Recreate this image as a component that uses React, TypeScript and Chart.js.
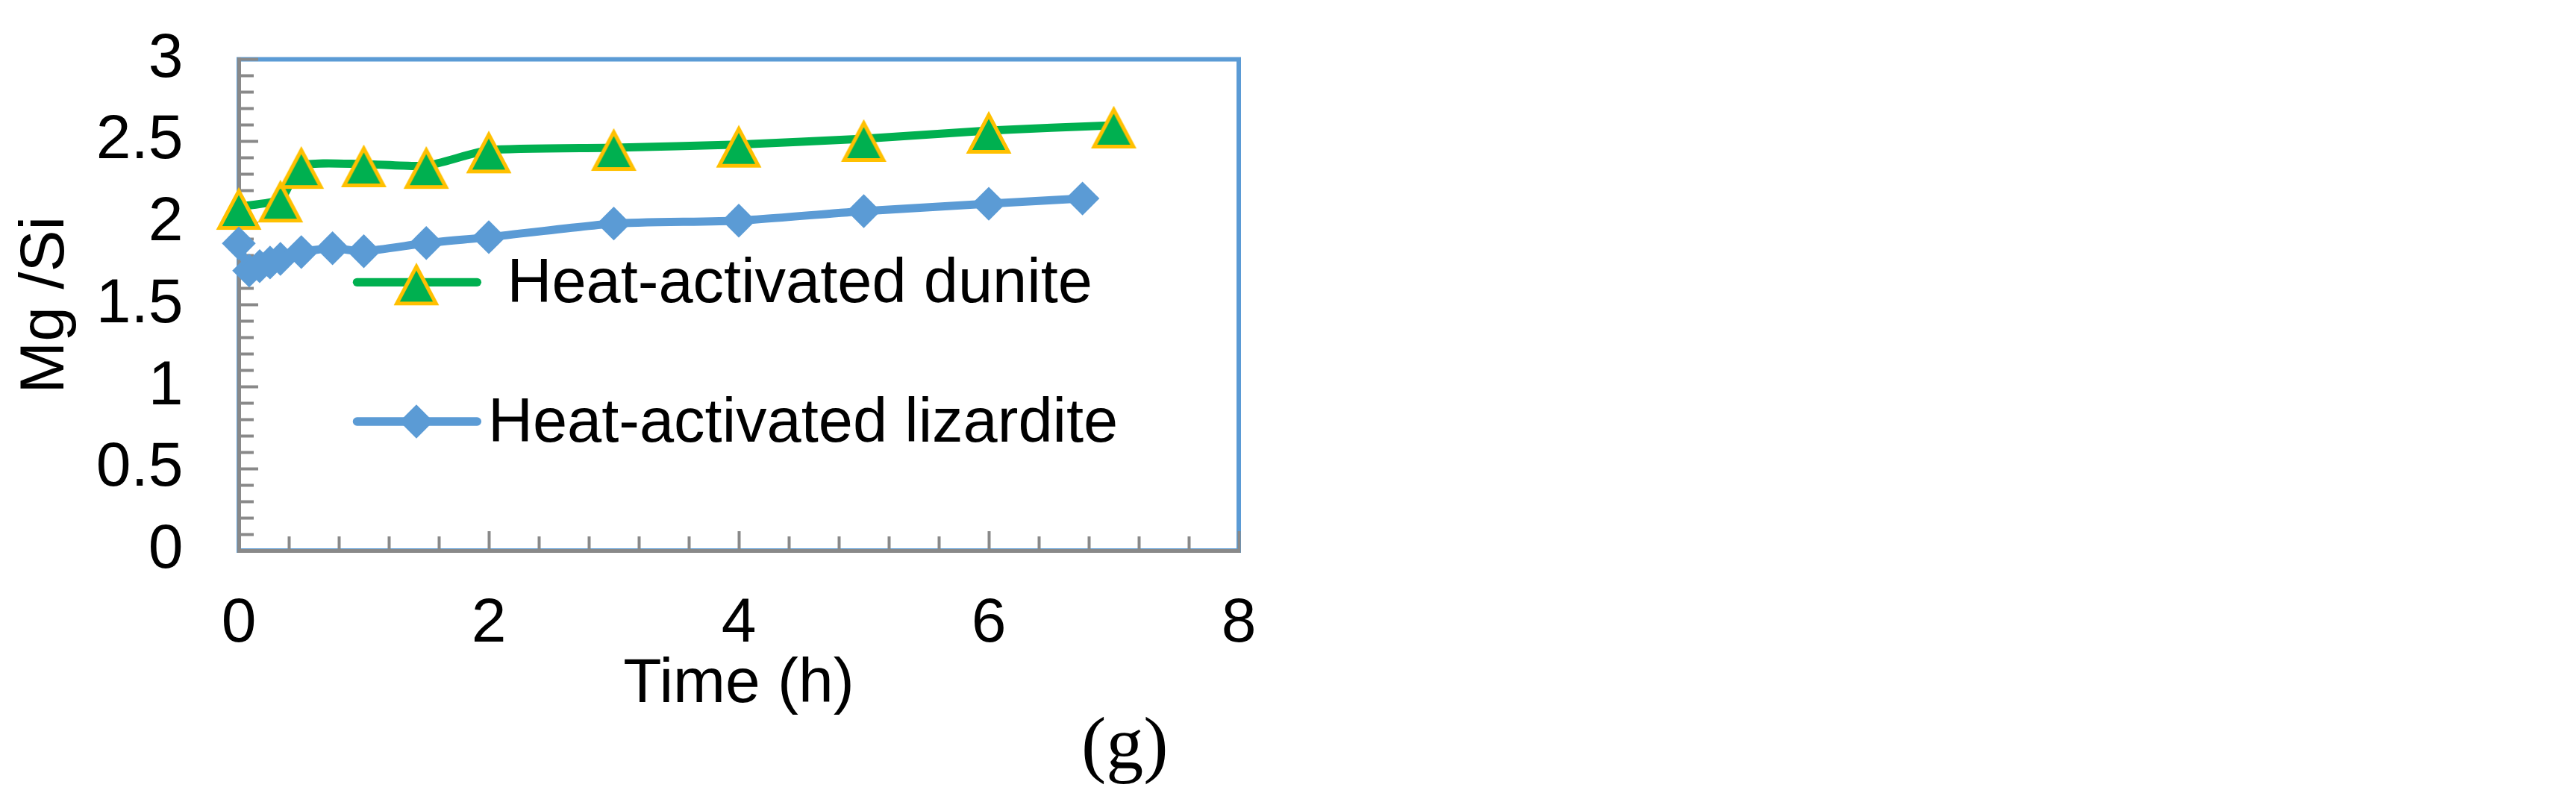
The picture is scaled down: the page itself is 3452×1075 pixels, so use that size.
import React, { useEffect, useRef } from 'react';
import { Chart, registerables } from 'chart.js';

Chart.register(...registerables);

// ---- data ----
const dunTime = [0, 0.333, 0.5, 1, 1.5, 2, 3, 4, 5, 6, 7];
const dunVal = [2.1, 2.145, 2.35, 2.36, 2.35, 2.445, 2.46, 2.48, 2.515, 2.565, 2.597];
const lizTime = [0, 0.083, 0.167, 0.25, 0.333, 0.5, 0.75, 1, 1.5, 2, 3, 4, 5, 6, 6.75];
const lizVal = [1.876, 1.71, 1.737, 1.759, 1.781, 1.823, 1.846, 1.828, 1.878, 1.914, 1.997, 2.015, 2.073, 2.118, 2.15];
const legendLabels = ['Heat-activated dunite', 'Heat-activated lizardite'];
const xTickLabels = [0, 2, 4, 6, 8];
const yTickLabels = [0, 0.5, 1, 1.5, 2, 2.5, 3];
const xTitle = 'Time (h)';
const yTitle = 'Mg /Si';
const panelLabel = '(g)';

// ---- styles ----
const GREEN = '#00B050';
const YELLOW = '#FFC000';
const BLUE = '#5B9BD5';
const GRAY = '#898989';
const SANS = '"Liberation Sans", Arial, sans-serif';
const SERIF = '"Liberation Serif", "Times New Roman", serif';

const near = (v: number, list: number[]) => list.some((m) => Math.abs(m - v) < 1e-6);

function makeTriangle(): HTMLCanvasElement {
  const c = document.createElement('canvas');
  c.width = 64;
  c.height = 64;
  const g = c.getContext('2d')!;
  const cx = 32;
  const cy = 32;
  g.beginPath();
  g.moveTo(cx, cy - 21);
  g.lineTo(cx + 26.3, cy + 28.5);
  g.lineTo(cx - 26.3, cy + 28.5);
  g.closePath();
  g.fillStyle = GREEN;
  g.fill();
  g.lineWidth = 5;
  g.lineJoin = 'miter';
  g.miterLimit = 10;
  g.strokeStyle = YELLOW;
  g.stroke();
  return c;
}

export default function App() {
  const ref = useRef<HTMLCanvasElement | null>(null);

  useEffect(() => {
    if (!ref.current) return;
    const tri = makeTriangle();

    const decor = {
      id: 'decor',
      beforeDraw(chart: any) {
        const { ctx, chartArea: a } = chart;
        ctx.save();
        ctx.fillStyle = '#ffffff';
        ctx.fillRect(0, 0, chart.width, chart.height);
        ctx.strokeStyle = BLUE;
        ctx.lineWidth = 6;
        ctx.strokeRect(a.left, a.top, a.right - a.left, a.bottom - a.top);
        ctx.restore();
      },
      afterDraw(chart: any) {
        const { ctx } = chart;
        ctx.save();
        const rows = [
          { y: 378.3, textX: 679.5, color: GREEN, kind: 'tri', label: legendLabels[0] },
          { y: 565, textX: 654, color: BLUE, kind: 'dia', label: legendLabels[1] },
        ];
        for (const r of rows) {
          ctx.beginPath();
          ctx.strokeStyle = r.color;
          ctx.lineWidth = 11.3;
          ctx.lineCap = 'round';
          ctx.moveTo(478.4, r.y);
          ctx.lineTo(639.4, r.y);
          ctx.stroke();
          if (r.kind === 'tri') {
            ctx.drawImage(tri, 558 - tri.width / 2, r.y - tri.height / 2);
          } else {
            const rr = 22.7;
            ctx.beginPath();
            ctx.moveTo(558 - rr, r.y);
            ctx.lineTo(558, r.y - rr);
            ctx.lineTo(558 + rr, r.y);
            ctx.lineTo(558, r.y + rr);
            ctx.closePath();
            ctx.fillStyle = BLUE;
            ctx.fill();
          }
          ctx.fillStyle = '#000';
          ctx.font = `83px ${SANS}`;
          ctx.textAlign = 'left';
          ctx.textBaseline = 'alphabetic';
          ctx.fillText(r.label, r.textX, r.y + 26.7);
        }
        ctx.font = `100px ${SERIF}`;
        ctx.fillStyle = '#000';
        ctx.textAlign = 'left';
        ctx.textBaseline = 'alphabetic';
        ctx.fillText(panelLabel, 1449, 1030);
        ctx.restore();
      },
    };

    const chart = new Chart(ref.current, {
      type: 'line',
      data: {
        datasets: [
          {
            label: legendLabels[1],
            data: lizTime.map((t, i) => ({ x: t, y: lizVal[i] })),
            borderColor: BLUE,
            backgroundColor: BLUE,
            borderWidth: 11,
            borderJoinStyle: 'round',
            tension: 0.2,
            pointStyle: 'rectRot',
            pointRadius: 22.7,
            pointHoverRadius: 22.7,
            pointBorderWidth: 0,
            pointBackgroundColor: BLUE,
            pointBorderColor: BLUE,
            clip: false as any,
            order: 0,
          },
          {
            label: legendLabels[0],
            data: dunTime.map((t, i) => ({ x: t, y: dunVal[i] })),
            borderColor: GREEN,
            backgroundColor: GREEN,
            borderWidth: 11,
            borderJoinStyle: 'round',
            tension: 0.2,
            pointStyle: tri as any,
            pointRadius: 30,
            pointHoverRadius: 30,
            clip: false as any,
            order: 1,
          },
        ] as any,
      },
      options: {
        responsive: false,
        maintainAspectRatio: false,
        animation: false,
        events: [],
        layout: { padding: { left: 0, top: 79.5, right: 1792, bottom: 97 } },
        plugins: { legend: { display: false }, tooltip: { enabled: false } },
        scales: {
          x: {
            type: 'linear',
            min: 0,
            max: 8,
            afterFit: (s: any) => {
              s.height = 240;
              s.paddingLeft = 0;
              s.paddingRight = 0;
            },
            border: { color: GRAY, width: 5 },
            grid: {
              drawOnChartArea: false,
              tickLength: -26,
              tickWidth: 4,
              tickColor: GRAY,
              tickBorderDash: (c: any) => (near(c.tick.value, xTickLabels) ? [] : [22, 1000]),
            } as any,
            ticks: {
              stepSize: 0.4,
              autoSkip: false,
              maxRotation: 0,
              padding: 74,
              color: '#000',
              font: { family: SANS, size: 84 },
              callback: (v: any) => (near(Number(v), xTickLabels) ? String(Math.round(Number(v))) : ''),
            },
            title: {
              display: true,
              text: xTitle,
              color: '#000',
              font: { family: SANS, size: 84 },
              padding: { top: 0, bottom: 10 },
            },
          },
          y: {
            type: 'linear',
            min: 0,
            max: 3,
            afterFit: (s: any) => {
              s.width = 320;
              s.paddingTop = 0;
              s.paddingBottom = 0;
            },
            border: { color: GRAY, width: 5 },
            grid: {
              drawOnChartArea: false,
              tickLength: -26,
              tickWidth: 4,
              tickColor: GRAY,
              tickBorderDash: (c: any) => (near(c.tick.value, yTickLabels) ? [] : [0, 6, 1000, 0]),
            } as any,
            ticks: {
              stepSize: 0.1,
              autoSkip: false,
              padding: 100.5,
              color: '#000',
              font: { family: SANS, size: 84 },
              callback: (v: any) => (near(Number(v), yTickLabels) ? String(Math.round(Number(v) * 10) / 10) : ''),
            },
            title: {
              display: true,
              text: yTitle,
              color: '#000',
              font: { family: SANS, size: 84 },
              padding: { top: 11, bottom: 0 },
            },
          },
        },
      } as any,
      plugins: [decor],
    });

    return () => {
      chart.destroy();
    };
  }, []);

  return (
    <div style={{ position: 'absolute', left: 0, top: 0, width: 3452, height: 1075, background: '#fff' }}>
      <canvas ref={ref} width={3452} height={1075} style={{ width: 3452, height: 1075, display: 'block' }} />
    </div>
  );
}
